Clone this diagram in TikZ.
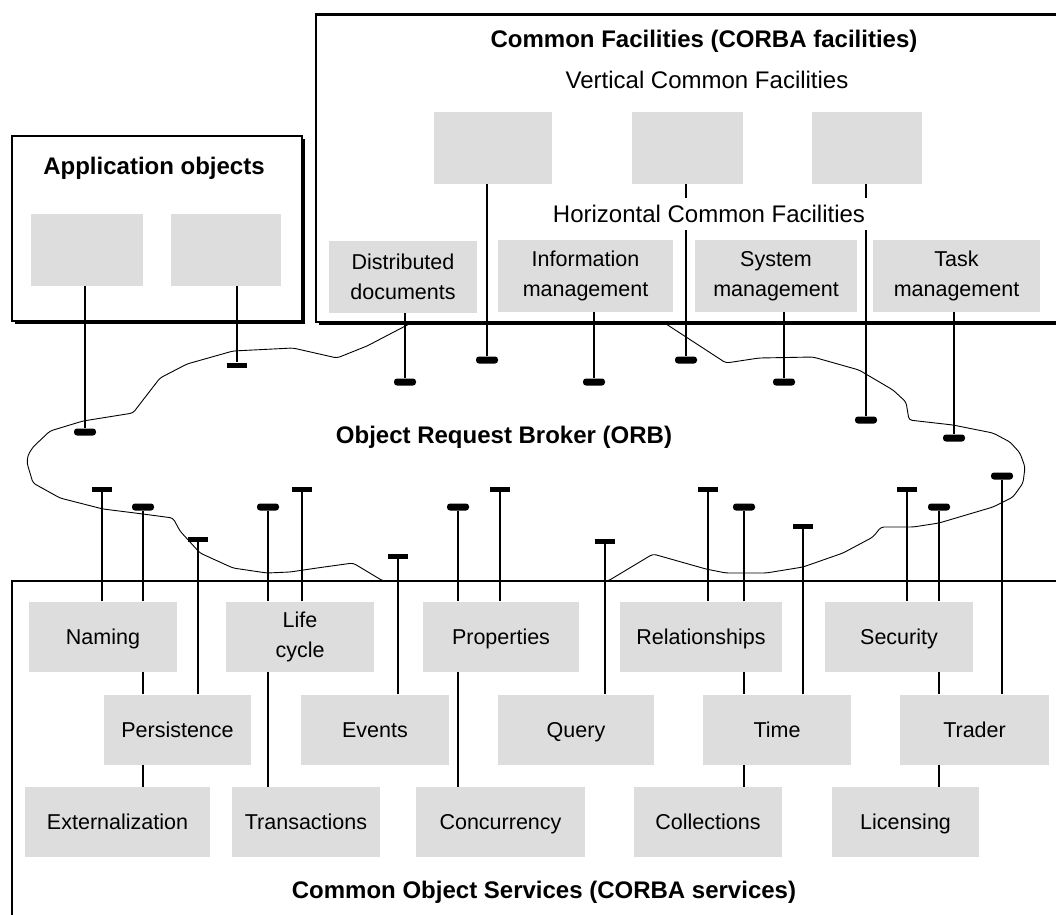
\documentclass[tikz,border=0pt]{standalone}
\usepackage{fontspec}
\setmainfont{Liberation Sans}
\usetikzlibrary{shadows}
\definecolor{boxgray}{HTML}{DDDDDD}

\begin{document}
\begin{tikzpicture}[
    x=1pt, y=-1pt,
    % --- 样式定义 ---
    % 外框
    boxframe/.style={draw, line width=1.5pt, fill=white, inner sep=0pt},
    shadowframe/.style={boxframe, drop shadow={shadow xshift=3pt, shadow yshift=-3pt, opacity=1, fill=black}},
    % 标题文字
    headtext/.style={font=\fontsize{24}{28}\selectfont\bfseries, inner sep=0pt},
    subtext/.style={font=\fontsize{24}{28}\selectfont, fill=white, inner xsep=2pt, inner ysep=7pt},
    % 灰色方块
    obj/.style={fill=boxgray, inner sep=0pt, minimum height=72pt, align=center, font=\fontsize{21.5}{30}\selectfont},
    svc/.style={obj, minimum height=70pt, text height=15pt, text depth=0pt},
    % 接头
    flatcap/.style={fill=black, inner sep=0pt, minimum width=20pt, minimum height=5pt},
    roundcap/.style={fill=black, inner sep=0pt, rounded corners=3pt, minimum width=22pt, minimum height=7pt},
    % 连线
    link/.style={line width=1.5pt},
    orb/.style={draw, line width=0.9pt, rounded corners=3pt}
]

% ==================== 0. 画布 ====================
\fill[white, use as bounding box] (0,0) rectangle (1056,914);
\clip (0,0) rectangle (1056,914);

% ==================== 1. ORB 云 ====================
\draw[orb] (27,463) -- (28,455) -- (33,447) -- (50,431) -- (83,421) -- (133,413) -- (143,400)
    -- (160,378) -- (187,364) -- (233,351) -- (293,348) -- (337,358) -- (367,346) -- (413,322)
    -- (663,322) -- (726,363) -- (759,358) -- (813,357) -- (859,370) -- (893,390) -- (906,402)
    -- (909,420) -- (953,425) -- (993,433) -- (1010,442) -- (1020,453) -- (1025,467) -- (1023,483)
    -- (1013,497) -- (993,507) -- (939,523) -- (913,527) -- (881,527) -- (873,537) -- (843,553)
    -- (803,567) -- (766,573) -- (726,573) -- (706,569) -- (653,554) -- (608,581) -- (383,581)
    -- (353,563) -- (317,568) -- (290,572) -- (267,573) -- (233,568) -- (200,553) -- (180,531)
    -- (173,518) -- (143,514) -- (103,509) -- (60,498) -- (33,483) -- cycle;
\node[headtext] (orbLabel) at (504,437) {Object Request Broker (ORB)};

% ==================== 2. 外框 ====================
\node[shadowframe, minimum width=290pt, minimum height=185pt] (appFrame) at (157,228.5) {};
\node[shadowframe, minimum width=784pt, minimum height=307pt] (cfFrame) at (708,168.5) {};
\draw[line width=3pt] (cfFrame.north west) -- (cfFrame.north east);
\node[boxframe, line width=2pt, minimum width=1088pt, minimum height=419pt] (svcFrame) at (556,790.5) {};

% ==================== 3. 上方对象 ====================
\node[headtext] (appTitle) at (154,168) {Application objects};
\node[obj, minimum width=112pt] (appObjA) at (87,250) {};
\node[obj, minimum width=110pt] (appObjB) at (226,250) {};

\node[headtext] (cfTitle) at (704,41) {Common Facilities (CORBA facilities)};
\node[subtext] (vertLabel) at (707,80) {Vertical Common Facilities};
\node[obj, minimum width=118pt] (vertA) at (493,148) {};
\node[obj, minimum width=111pt] (vertB) at (687.5,148) {};
\node[obj, minimum width=110pt] (vertC) at (867,148) {};

\node[obj, minimum width=148pt] (distDoc) at (403,277) {Distributed\\documents};
\node[obj, minimum width=175pt] (infoMgmt) at (585.5,276) {Information\\management};
\node[obj, minimum width=162pt] (sysMgmt) at (776,276) {System\\management};
\node[obj, minimum width=167pt] (taskMgmt) at (956.5,276) {Task\\management};

% ==================== 4. 下方服务 ====================
\node[headtext] (svcTitle) at (544,892) {Common Object Services (CORBA services)};

\node[svc, minimum width=148pt] (naming) at (103,636.5) {Naming};
\node[obj, minimum width=148pt, minimum height=70pt] (lifeCycle) at (300,636.5) {Life\\cycle};
\node[svc, minimum width=156pt] (properties) at (501,636.5) {Properties};
\node[svc, minimum width=162pt] (relations) at (701,636.5) {Relationships};
\node[svc, minimum width=148pt] (security) at (899,636.5) {Security};

\node[svc, minimum width=147pt] (persistence) at (177.5,729.5) {Persistence};
\node[svc, minimum width=148pt] (events) at (375,729.5) {Events};
\node[svc, minimum width=156pt] (query) at (576,729.5) {Query};
\node[svc, minimum width=148pt] (timeSvc) at (777,729.5) {Time};
\node[svc, minimum width=149pt] (trader) at (974.5,729.5) {Trader};

\node[svc, minimum width=185pt] (external) at (117.5,822) {Externalization};
\node[svc, minimum width=148pt] (transact) at (306,822) {Transactions};
\node[svc, minimum width=169pt] (concur) at (500.5,822) {Concurrency};
\node[svc, minimum width=148pt] (collect) at (708,822) {Collections};
\node[svc, minimum width=147pt] (licensing) at (905.5,822) {Licensing};

% ==================== 5. 接头 ====================
% 上方
\node[roundcap] (capAppA) at (85,432) {};
\node[flatcap] (capAppB) at (237,365) {};
\node[roundcap] (capDist) at (405,382) {};
\node[roundcap] (capVertA) at (487,360) {};
\node[roundcap] (capInfo) at (594,382) {};
\node[roundcap] (capVertB) at (686,360) {};
\node[roundcap] (capSys) at (784,382) {};
\node[roundcap] (capVertC) at (866,420) {};
\node[roundcap] (capTask) at (954,438) {};
% 下方
\node[flatcap] (capNamingA) at (102,489) {};
\node[roundcap] (capNamingB) at (143,507) {};
\node[flatcap] (capPersist) at (198,539) {};
\node[roundcap] (capLifeA) at (268,507) {};
\node[flatcap] (capLifeB) at (302,489) {};
\node[flatcap] (capEvents) at (398,556) {};
\node[roundcap] (capPropA) at (458,507) {};
\node[flatcap] (capPropB) at (500,489) {};
\node[flatcap] (capQuery) at (605,541) {};
\node[flatcap] (capRelA) at (708,489) {};
\node[roundcap] (capRelB) at (744,507) {};
\node[flatcap] (capTime) at (803,526) {};
\node[flatcap] (capSecA) at (907,489) {};
\node[roundcap] (capSecB) at (939,507) {};
\node[roundcap] (capTrader) at (1002,476) {};

% ==================== 6. 连线 ====================
% --- 上方对象 -> ORB ---
\draw[link] (capAppA |- appObjA.south) -- (capAppA.north);
\draw[link] (capAppB |- appObjB.south) -- (capAppB.north);
\draw[link] (capDist |- distDoc.south) -- (capDist.north);
\draw[link] (capVertA |- vertA.south) -- (capVertA.north);
\draw[link] (capInfo |- infoMgmt.south) -- (capInfo.north);
\draw[link] (capVertB |- vertB.south) -- (capVertB.north);
\draw[link] (capSys |- sysMgmt.south) -- (capSys.north);
\draw[link] (capVertC |- vertC.south) -- (capVertC.north);
\draw[link] (capTask |- taskMgmt.south) -- (capTask.north);

% --- 服务 -> ORB ---
\draw[link] (capNamingA |- naming.north) -- (capNamingA.south);
\draw[link] (capNamingB |- naming.north) -- (capNamingB.south);
\draw[link] (capPersist |- persistence.north) -- (capPersist.south);
\draw[link] (capLifeA |- lifeCycle.north) -- (capLifeA.south);
\draw[link] (capLifeB |- lifeCycle.north) -- (capLifeB.south);
\draw[link] (capEvents |- events.north) -- (capEvents.south);
\draw[link] (capPropA |- properties.north) -- (capPropA.south);
\draw[link] (capPropB |- properties.north) -- (capPropB.south);
\draw[link] (capQuery |- query.north) -- (capQuery.south);
\draw[link] (capRelA |- relations.north) -- (capRelA.south);
\draw[link] (capRelB |- relations.north) -- (capRelB.south);
\draw[link] (capTime |- timeSvc.north) -- (capTime.south);
\draw[link] (capSecA |- security.north) -- (capSecA.south);
\draw[link] (capSecB |- security.north) -- (capSecB.south);
\draw[link] (capTrader |- trader.north) -- (capTrader.south);

% --- 服务之间 ---
\draw[link] (capNamingB |- naming.south) -- (capNamingB |- persistence.north);
\draw[link] (capNamingB |- persistence.south) -- (capNamingB |- external.north);
\draw[link] (capLifeA |- lifeCycle.south) -- (capLifeA |- transact.north);
\draw[link] (capPropA |- properties.south) -- (capPropA |- concur.north);
\draw[link] (capRelB |- relations.south) -- (capRelB |- timeSvc.north);
\draw[link] (capRelB |- timeSvc.south) -- (capRelB |- collect.north);
\draw[link] (capSecB |- security.south) -- (capSecB |- trader.north);
\draw[link] (capSecB |- trader.south) -- (capSecB |- licensing.north);

% 横向标签盖住竖线
\node[subtext] (horLabel) at (709,214) {Horizontal Common Facilities};

\end{tikzpicture}
\end{document}
